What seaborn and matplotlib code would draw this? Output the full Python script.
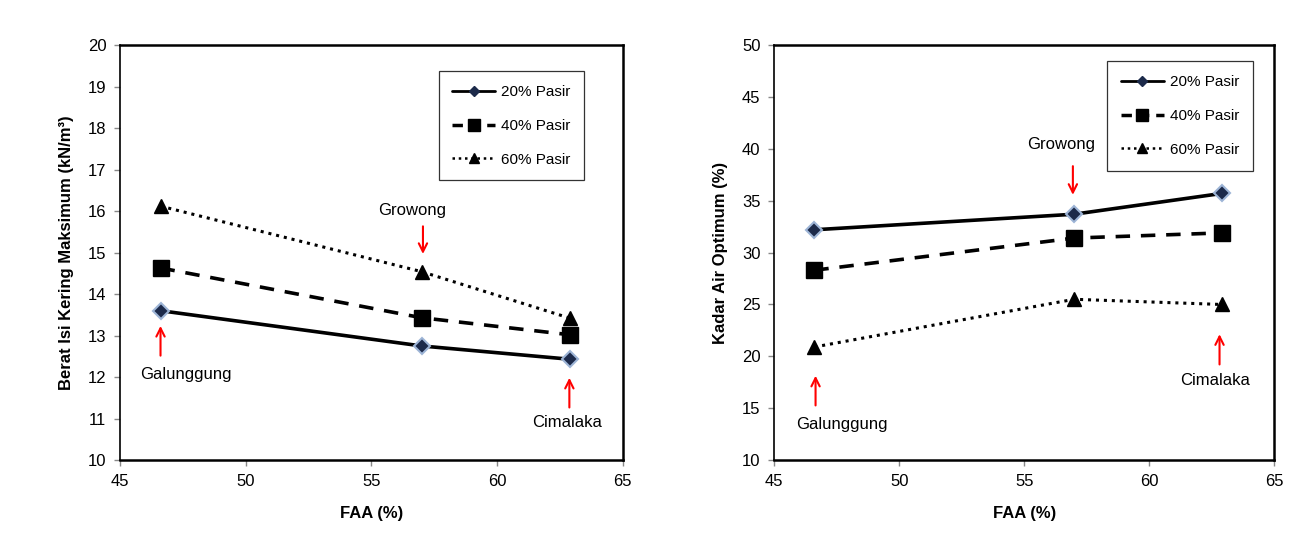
import numpy as np
import pandas as pd
import matplotlib.pyplot as plt
import seaborn as sns
from matplotlib.lines import Line2D

sns.set_style("white", {"xtick.bottom": True, "ytick.left": True,
                        "axes.edgecolor": "black"})
plt.rcParams['font.family'] = ['Liberation Sans', 'DejaVu Sans']
plt.rcParams['text.color'] = 'black'
plt.rcParams['axes.labelcolor'] = 'black'
plt.rcParams['xtick.labelcolor'] = 'black'
plt.rcParams['ytick.labelcolor'] = 'black'

faa = [46.6, 57.0, 62.9]
series = ["20% Pasir", "40% Pasir", "60% Pasir"]

# Berat isi kering maksimum (kN/m3)
berat_20 = [13.6, 12.75, 12.43]
berat_40 = [14.63, 13.43, 13.02]
berat_60 = [16.12, 14.54, 13.42]

# Kadar air optimum (%)
kadar_20 = [32.2, 33.7, 35.7]
kadar_40 = [28.3, 31.4, 31.9]
kadar_60 = [20.9, 25.5, 25.0]

sites = ["Galunggung", "Growong", "Cimalaka"]

df_left = pd.DataFrame({"FAA": faa * 3,
                        "val": berat_20 + berat_40 + berat_60,
                        "seri": np.repeat(series, 3)})
df_right = pd.DataFrame({"FAA": faa * 3,
                         "val": kadar_20 + kadar_40 + kadar_60,
                         "seri": np.repeat(series, 3)})

styles = {
    "20% Pasir": dict(ls="-", lw=2.6, marker="D", ms=8, mfc="#1c2a4a", mec="#9db4d6", mew=1.5),
    "40% Pasir": dict(ls=(0, (4, 3)), lw=2.6, marker="s", ms=11, mfc="black", mec="black", mew=1),
    "60% Pasir": dict(ls=(0, (1, 1.6)), lw=2.2, marker="^", ms=10, mfc="black", mec="black", mew=1),
}
leg_styles = {
    "20% Pasir": dict(ls="-", lw=2, marker="D", ms=5, mfc="#1c2a4a", mec="#1c2a4a"),
    "40% Pasir": dict(ls=(0, (3, 2)), lw=2.5, marker="s", ms=9, mfc="black", mec="black"),
    "60% Pasir": dict(ls=(0, (1, 1.5)), lw=1.8, marker="^", ms=7, mfc="black", mec="black"),
}

fig = plt.figure(figsize=(13.08, 5.57), dpi=100)
ax1 = fig.add_axes([0.092, 0.174, 0.384, 0.745])
ax2 = fig.add_axes([0.592, 0.174, 0.382, 0.745])


def draw(ax, df):
    for s in series:
        sub = df[df["seri"] == s]
        st = styles[s]
        sns.lineplot(data=sub, x="FAA", y="val", ax=ax, color="black",
                     linewidth=st["lw"], linestyle=st["ls"], marker=st["marker"],
                     markersize=st["ms"], markerfacecolor=st["mfc"],
                     markeredgecolor=st["mec"], markeredgewidth=st["mew"],
                     legend=False, zorder=3)
    ax.set_xlim(45, 65)
    ax.set_xticks([45, 50, 55, 60, 65])
    for sp in ax.spines.values():
        sp.set_linewidth(1.8)
        sp.set_color("black")
    ax.spines["left"].set_linewidth(1.2)
    ax.tick_params(axis="both", direction="out", length=4, width=1, color="#888888",
                   labelsize=12, pad=6)
    ax.set_xlabel("FAA (%)", fontsize=12, fontweight="bold", labelpad=12)
    handles = [Line2D([], [], color="black", linestyle=leg_styles[s]["ls"],
                      linewidth=leg_styles[s]["lw"], marker=leg_styles[s]["marker"],
                      markersize=leg_styles[s]["ms"], markerfacecolor=leg_styles[s]["mfc"],
                      markeredgecolor=leg_styles[s]["mec"]) for s in series]
    return handles


h = draw(ax1, df_left)
ax1.set_ylim(10, 20)
ax1.set_yticks(range(10, 21))
ax1.set_ylabel("Berat Isi Kering Maksimum (kN/m³)", fontsize=12, fontweight="bold", labelpad=10)
leg = ax1.legend(h, series, loc="upper right", bbox_to_anchor=(0.924, 0.937),
                 borderaxespad=0, frameon=True, fancybox=False, edgecolor="black",
                 fontsize=11, handlelength=2.8, labelspacing=1.3, borderpad=0.9,
                 handletextpad=0.4)
leg.get_frame().set_linewidth(0.9)

h = draw(ax2, df_right)
ax2.set_ylim(10, 50)
ax2.set_yticks(range(10, 51, 5))
ax2.set_ylabel("Kadar Air Optimum (%)", fontsize=12, fontweight="bold", labelpad=10)
leg = ax2.legend(h, series, loc="upper right", bbox_to_anchor=(0.958, 0.961),
                 borderaxespad=0, frameon=True, fancybox=False, edgecolor="black",
                 fontsize=11, handlelength=2.8, labelspacing=1.3, borderpad=0.9,
                 handletextpad=0.4)
leg.get_frame().set_linewidth(0.9)

arrow = dict(arrowstyle="->,head_length=0.6,head_width=0.3", color="red", lw=1.5)

# text pos, arrow tail, arrow head
left_notes = [
    ((47.6, 12.07), (46.6, 12.45), (46.6, 13.3)),
    ((56.6, 16.02), (57.05, 15.7), (57.05, 14.9)),
    ((62.77, 10.9), (62.88, 11.2), (62.88, 12.05)),
]
right_notes = [
    ((47.7, 13.44), (46.65, 15.0), (46.65, 18.4)),
    ((56.48, 40.46), (56.95, 38.6), (56.95, 35.3)),
    ((62.65, 17.64), (62.82, 18.95), (62.82, 22.4)),
]
for ax, notes in [(ax1, left_notes), (ax2, right_notes)]:
    for site, (tpos, tail, head) in zip(sites, notes):
        ax.text(tpos[0], tpos[1], site, ha="center", va="center", fontsize=12)
        ax.annotate("", xy=head, xytext=tail, arrowprops=arrow)

fig.savefig("out.png", dpi=100)
